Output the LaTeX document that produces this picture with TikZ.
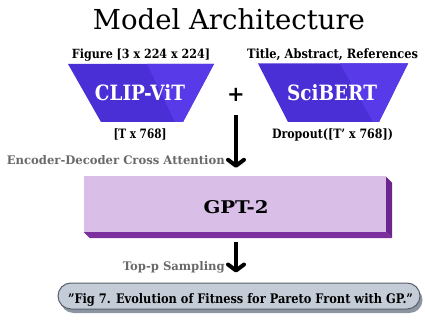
\documentclass[tikz,border=0pt]{standalone}
\usepackage{fontspec}
\setmainfont{DejaVu Serif}[Ligatures=ResetAll]
\usepackage{graphicx}
\usetikzlibrary{arrows.meta,shadows}
\definecolor{trapA}{RGB}{74,46,214}
\definecolor{trapB}{RGB}{88,58,232}
\definecolor{gptF}{RGB}{217,191,231}
\definecolor{gptD}{RGB}{124,46,158}
\definecolor{gptS}{RGB}{108,36,142}
\definecolor{outF}{RGB}{196,205,215}
\definecolor{outD}{RGB}{140,150,162}
\definecolor{outB}{RGB}{88,96,106}
\definecolor{lblG}{RGB}{105,105,105}
\newcommand\fw[2]{\resizebox{#1pt}{!}{#2}}
\newcommand\fwh[3]{\resizebox{#1pt}{#2pt}{#3}}
\begin{document}
\begin{tikzpicture}[x=1pt,y=-1pt,
  txt/.style={inner sep=0pt,anchor=base},
  flow/.style={line width=4pt,-{Straight Barb[length=6pt,width=16pt,line cap=round,line join=round]}},
  gray label/.style={inner sep=0pt,anchor=base east,text=lblG}]
\useasboundingbox (0,0) rectangle (425,328);
% title
\node[txt] (title) at (229,30) {\fw{272}{Model Architecture}};
% input labels
\node[txt] (figlbl) at (141,58.7) {\fwh{138}{9.6}{\bfseries Figure [3 x 224 x 224]}};
\node[txt] (txtlbl) at (332.5,58.7) {\fwh{171}{9.8}{\bfseries Title, Abstract, References}};
% CLIP trapezoid
\fill[trapA] (68,64) -- (214,64) -- (183,122) -- (101,122) -- cycle;
\fill[trapB] (147,64) -- (214,64) -- (183,122) -- (175,122) -- cycle;
\node[txt,text=white] (clip) at (140,100.5) {\fwh{90}{16}{\bfseries CLIP-ViT}};
% SciBERT trapezoid
\fill[trapA] (258,63.5) -- (408,63.5) -- (379,122) -- (288,122) -- cycle;
\fill[trapB] (340,63.5) -- (408,63.5) -- (379,122) -- (373,122) -- cycle;
\node[txt,text=white] (scibert) at (332,100.5) {\fwh{90}{16}{\bfseries SciBERT}};
% plus
\node[txt] (plus) at (236,102) {\fontsize{21}{21}\selectfont\bfseries +};
% output labels
\node[txt] (clipout) at (140,138.5) {\fwh{53}{9.8}{\bfseries [T x 768]}};
\node[txt] (sciout) at (332.5,138.5) {\fwh{121}{9.8}{\bfseries Dropout([T' x 768])}};
% GPT-2 box
\node[fill=gptF,inner sep=0pt,minimum width=302pt,minimum height=56pt] (gpt) at (235,204) {};
\fill[gptD] (gpt.south west) -- (gpt.south east) -- ([shift={(6,6)}]gpt.south east) -- ([shift={(6,6)}]gpt.south west) -- cycle;
\fill[gptS] ([shift={(0,1)}]gpt.north east) -- ([shift={(6,7)}]gpt.north east) -- ([shift={(6,6)}]gpt.south east) -- (gpt.south east) -- cycle;
\node[txt] (gpttxt) at (236,214) {\fwh{65}{13}{\bfseries GPT-2}};
% first arrow
\coordinate (a1) at (236,115);
\draw[flow,shorten >=8pt] (a1) -- (a1 |- gpt.north);
\node[gray label] (xattn) at (225,165) {\fwh{218}{9}{\bfseries Encoder-Decoder Cross Attention}};
% output box
\node[draw=outB,line width=1pt,fill=outF,rounded corners=13pt,minimum width=362pt,minimum height=26pt,inner sep=0pt,
  drop shadow={shadow xshift=2.5pt,shadow yshift=-4pt,fill=outD,opacity=1}] (out) at (239,296) {};
\node[txt] (outtxt) at (240.5,303.5) {\fwh{345}{10}{\bfseries "Fig 7. Evolution of Fitness for Pareto Front with GP."}};
% second arrow
\draw[flow,shorten <=10pt,shorten >=10pt] ([xshift=1pt]gpt.south) -- ([xshift=1pt]gpt.south |- out.north);
\node[gray label] (topp) at (225,270) {\fwh{102}{9}{\bfseries Top-p Sampling}};
\end{tikzpicture}
\end{document}
